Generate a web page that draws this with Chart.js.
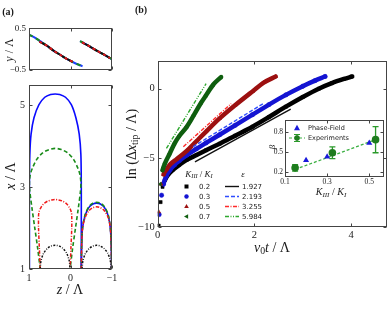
<!DOCTYPE html>
<html>
<head>
<meta charset="utf-8">
<script src="https://cdn.jsdelivr.net/npm/chart.js@4.4.0/dist/chart.umd.min.js"></script>
<style>
  body { margin: 0; width: 390px; height: 309px; position: relative; overflow: hidden; background: #fff; }
  canvas { position: absolute; }
  .t { position: absolute; white-space: nowrap; line-height: 1; color: #1a1a1a; font-family: 'Liberation Serif', serif; transform: translate(-50%, -50%); }
  .r { transform: translate(-50%, -50%) rotate(-90deg); }
  .s { font-family: 'DejaVu Sans', sans-serif; transform: translate(0, -50%); }
  sub { font-size: 70%; vertical-align: -0.25em; line-height: 0; }
</style>
</head>
<body>
<canvas id="aTop" width="120" height="58" style="left:0;top:20px"></canvas>
<canvas id="aBot" width="122" height="210" style="left:0;top:75px"></canvas>
<canvas id="bMain" width="261" height="195" style="left:130px;top:50px"></canvas>
<canvas id="bIns" width="128" height="80" style="left:262px;top:110px"></canvas>

<div class="t" style="left:8px;top:12px;font-size:10px;font-weight:bold">(a)</div>
<div class="t" style="left:141px;top:10px;font-size:10px;font-weight:bold">(b)</div>
<div class="t r" style="left:9px;top:50px;font-size:12px"><i>y</i> / Λ</div>
<div class="t r" style="left:11px;top:176px;font-size:14px"><i>x</i> / Λ</div>
<div class="t" style="left:70px;top:290px;font-size:14px"><i>z</i> / Λ</div>
<div class="t r" style="left:132px;top:144px;font-size:14px">ln (Δ<i>x</i><sub>tip</sub> / Λ)</div>
<div class="t" style="left:272px;top:248px;font-size:14px"><i>v</i><sub>0</sub><i>t</i> / Λ</div>
<div class="t r" style="left:272px;top:147px;font-size:9px"><i>β</i></div>
<div class="t" style="left:331px;top:192px;font-size:10px"><i>K</i><sub><i>III</i></sub> / <i>K</i><sub><i>I</i></sub></div>
<div class="t" style="left:199px;top:174px;font-size:9px"><i>K</i><sub><i>III</i></sub> / <i>K</i><sub><i>I</i></sub></div>
<div class="t" style="left:243px;top:174px;font-size:9px"><i>ε</i></div>
<div id="legTxt"></div>
<div class="t s" style="left:308px;top:128px;font-size:6.5px">Phase-Field</div>
<div class="t s" style="left:308px;top:138px;font-size:6.5px">Experiments</div>

<script>
// ---------- panel (a), top: y/Λ against z/Λ ----------
const zSeg1 = [1.0, 0.85, 0.73, 0.57, 0.41, 0.25, 0.09, -0.1, -0.29];
const ySeg1 = [0.35, 0.27, 0.19, 0.08, -0.04, -0.14, -0.24, -0.34, -0.42];
const zIn1 = [0.75, 0.57, 0.41, 0.25, 0.09, -0.05];
const yIn1 = [0.18, 0.08, -0.04, -0.14, -0.24, -0.31];
const zSeg2 = [-0.23, -0.4, -0.63, -0.85, -1.0];
const ySeg2 = [0.19, 0.1, -0.04, -0.16, -0.25];
const zIn2 = [-0.28, -0.45, -0.63, -0.8, -0.95];
const yIn2 = [0.16, 0.07, -0.04, -0.13, -0.22];

// ---------- panel (a), bottom: x/Λ against z/Λ ----------
const zBlueL = [0.99, 0.99, 0.99, 0.98, 0.95, 0.88, 0.76, 0.62, 0.48, 0.37, 0.26, 0.12, -0.02, -0.13, -0.21, -0.25, -0.26, -0.26, -0.26];
const xBlueL = [1.0, 2.0, 3.0, 3.8, 4.3, 4.7, 5.02, 5.2, 5.27, 5.28, 5.27, 5.2, 5.02, 4.7, 4.3, 3.8, 3.0, 2.0, 1.0];
const zRight = [-0.26, -0.27, -0.29, -0.35, -0.44, -0.54, -0.63, -0.72, -0.82, -0.91, -0.96, -0.98, -0.99];
const xBlueR = [1.0, 1.6, 2.0, 2.3, 2.5, 2.59, 2.61, 2.59, 2.5, 2.3, 2.0, 1.6, 1.0];
const xGreenR = [1.0, 1.6, 2.0, 2.32, 2.52, 2.61, 2.63, 2.61, 2.52, 2.32, 2.0, 1.6, 1.0];
const xRedR = [1.0, 1.6, 2.0, 2.25, 2.42, 2.5, 2.52, 2.5, 2.42, 2.25, 2.0, 1.6, 1.0];
const zGreenL = [0.73, 0.79, 0.86, 0.93, 0.98, 0.99, 0.97, 0.92, 0.82, 0.67, 0.52, 0.37, 0.22, 0.07, -0.08, -0.18, -0.23, -0.25, -0.24, -0.19, -0.12, -0.05, 0.01];
const xGreenL = [1.0, 1.5, 2.0, 2.5, 2.9, 3.1, 3.3, 3.46, 3.67, 3.84, 3.92, 3.95, 3.92, 3.84, 3.67, 3.46, 3.3, 3.1, 2.9, 2.5, 2.0, 1.5, 1.0];
const zRedL = [0.73, 0.75, 0.77, 0.77, 0.76, 0.72, 0.65, 0.55, 0.45, 0.37, 0.29, 0.19, 0.09, 0.02, -0.02, -0.03, -0.03, -0.01, 0.01];
const xRedL = [1.0, 1.5, 2.0, 2.3, 2.39, 2.49, 2.59, 2.66, 2.69, 2.7, 2.69, 2.66, 2.59, 2.49, 2.39, 2.3, 2.0, 1.5, 1.0];
const zBlackL = [0.73, 0.71, 0.65, 0.56, 0.47, 0.37, 0.27, 0.18, 0.09, 0.03, 0.01];
const zBlackR = [-0.28, -0.3, -0.36, -0.45, -0.54, -0.63, -0.72, -0.81, -0.9, -0.96, -0.98];
const xBlack = [1.0, 1.2, 1.38, 1.5, 1.56, 1.58, 1.56, 1.5, 1.38, 1.2, 1.0];

// ---------- panel (b): ln(Δx_tip/Λ) against v0 t/Λ ----------
const tK02 = [0.02, 0.06, 0.10, 0.15, 0.22, 0.32, 0.45, 0.60, 0.80, 1.00, 1.28, 1.60, 1.96, 2.30, 2.65, 3.00, 3.33, 3.60, 3.85, 4.02];
const lnK02 = [-9.9, -8.2, -7.1, -6.6, -6.2, -5.85, -5.5, -5.15, -4.8, -4.45, -3.98, -3.4, -2.75, -2.05, -1.3, -0.6, 0.0, 0.4, 0.7, 0.88];
const tK03 = [0.03, 0.08, 0.12, 0.18, 0.25, 0.35, 0.45, 0.60, 0.80, 1.00, 1.28, 1.60, 1.96, 2.30, 2.65, 3.00, 3.25, 3.46];
const lnK03 = [-9.1, -7.7, -6.9, -6.3, -5.9, -5.5, -5.2, -4.8, -4.35, -3.92, -3.33, -2.65, -1.88, -1.15, -0.45, 0.18, 0.58, 0.88];
const tK05 = [0.02, 0.07, 0.12, 0.18, 0.25, 0.39, 0.60, 0.80, 1.00, 1.28, 1.60, 1.96, 2.20, 2.44];
const lnK05 = [-8.9, -6.9, -6.2, -5.85, -5.5, -5.1, -4.5, -3.8, -3.1, -2.15, -1.2, -0.2, 0.45, 0.88];
const tK07 = [0.05, 0.10, 0.15, 0.25, 0.35, 0.45, 0.60, 0.75, 0.90, 1.00, 1.15, 1.31];
const lnK07 = [-6.9, -5.9, -5.4, -4.68, -3.95, -3.4, -2.76, -1.9, -1.0, -0.48, 0.3, 0.84];
// straight fits, slope ε
const fitT02 = [0.77, 2.75], fitLn02 = [-5.3, -1.48];
const fitT03 = [0.73, 2.18], fitLn03 = [-4.2, -1.08];
const fitT05 = [0.53, 1.52], fitLn05 = [-4.2, -1.08];
const fitT07 = [0.18, 1.0], fitLn07 = [-4.32, 0.36];
const ratioLabels = ['0.2', '0.3', '0.5', '0.7'];
const epsLabels = ['1.927', '2.193', '3.255', '5.984'];

// ---------- inset: β against K_III/K_I ----------
const kPF = [0.2, 0.3, 0.5];
const betaPF = [0.375, 0.43, 0.64];
const kExp = [0.148, 0.325, 0.53];
const betaExp = [0.26, 0.49, 0.69];
const betaErr = [0.05, 0.09, 0.2];
const kFit = [0.148, 0.53];
const betaFit = [0.235, 0.69];

const pts = (xs, ys) => xs.map((x, i) => ({ x: x, y: ys[i] }));
const minus = v => String(v).replace('-', '\u2212');

const frame = {
  id: 'frame',
  beforeDraw(c, a, o) {
    if (!o.fill) return;
    const r = c.chartArea;
    c.ctx.save();
    c.ctx.fillStyle = o.fill;
    c.ctx.fillRect(r.left, r.top, r.right - r.left, r.bottom - r.top);
    c.ctx.restore();
  },
  afterDraw(c, a, o) {
    const r = c.chartArea, ctx = c.ctx, L = 3;
    const l = Math.round(r.left) + 0.5, rt = Math.round(r.right) - 0.5;
    const tp = Math.round(r.top) + 0.5, bt = Math.round(r.bottom) - 0.5;
    ctx.save();
    ctx.strokeStyle = '#444';
    ctx.lineWidth = 1;
    ctx.strokeRect(l, tp, rt - l, bt - tp);
    ctx.beginPath();
    c.scales.x.ticks.forEach(t => {
      const p = Math.round(c.scales.x.getPixelForValue(t.value)) + 0.5;
      ctx.moveTo(p, bt); ctx.lineTo(p, bt - L);
      ctx.moveTo(p, tp); ctx.lineTo(p, tp + L);
    });
    c.scales.y.ticks.forEach(t => {
      const p = Math.round(c.scales.y.getPixelForValue(t.value)) + 0.5;
      ctx.moveTo(l, p); ctx.lineTo(l + L, p);
      ctx.moveTo(rt, p); ctx.lineTo(rt - L, p);
    });
    ctx.stroke();
    ctx.restore();
  }
};
Chart.register(frame);
Chart.defaults.animation = false;
Chart.defaults.color = '#222';

function axis(min, max, ticks, size, fit, opts) {
  return Object.assign({
    type: 'linear', min: min, max: max,
    grid: { display: false, drawTicks: false }, border: { display: false },
    afterBuildTicks: s => { s.ticks = ticks.map(v => ({ value: v })); },
    afterFit: s => { if (s.isHorizontal()) s.height = size; else s.width = size; },
    ticks: { font: { family: 'Liberation Serif', size: fit.font }, padding: fit.pad, callback: minus, display: fit.show !== false }
  }, opts || {});
}

// note: Chart.js paints the first dataset last, so overlays go first in each list
function make(id, datasets, x, y, pad, extra) {
  return new Chart(document.getElementById(id), {
    type: 'scatter',
    data: { datasets: datasets },
    options: {
      responsive: false, devicePixelRatio: 1,
      layout: { padding: pad },
      scales: { x: x, y: y },
      plugins: { legend: { display: false }, tooltip: { enabled: false }, frame: extra && extra.fill ? { fill: extra.fill } : {} },
      elements: { point: { radius: 0 } }
    },
    plugins: extra && extra.plugins ? extra.plugins : []
  });
}

const line = (xs, ys, color, width, dash, tension) => ({
  data: pts(xs, ys), showLine: true, borderColor: color, borderWidth: width,
  borderDash: dash || [], tension: tension || 0, pointRadius: 0, fill: false
});

// panel (a) top
make('aTop', [
  line(zIn1, yIn1, '#e01818', 2, [3, 3], 0.3),
  line(zIn2, yIn2, '#e01818', 2, [3, 3], 0.3),
  line(zIn1, yIn1, '#111', 2, [], 0.3),
  line(zIn2, yIn2, '#111', 2, [], 0.3),
  line(zSeg1, ySeg1, '#1a8c1a', 2, [4, 4], 0.3),
  line(zSeg2, ySeg2, '#1a8c1a', 2, [4, 4], 0.3),
  line(zSeg1, ySeg1, '#1f3fff', 2, [], 0.3),
  line(zSeg2, ySeg2, '#1f3fff', 2, [], 0.3)
],
  axis(-1, 1, [1, 0, -1], 7, { font: 9, pad: 2, show: false }, { reverse: true }),
  axis(-0.5, 0.5, [-0.5, 0.5], 29, { font: 9, pad: 3 }),
  { top: 8, right: 8, left: 0, bottom: 0 });

// panel (a) bottom
make('aBot', [
  line(zBlackL, xBlack, '#111', 1.5, [2, 1.5, 0.8, 1.5], 0.3),
  line(zBlackR, xBlack, '#111', 1.5, [2, 1.5, 0.8, 1.5], 0.3),
  line(zRedL, xRedL, '#f01a1a', 1.5, [3.5, 1.5, 1, 1.5], 0.3),
  line(zRight, xRedR, '#f01a1a', 1.5, [3.5, 1.5, 1, 1.5], 0.3),
  line(zGreenL, xGreenL, '#1a8c1a', 1.6, [4, 2.5], 0.3),
  line(zRight, xGreenR, '#1a8c1a', 1.6, [4, 2.5], 0.3),
  line(zBlueL, xBlueL, '#0a0aff', 1.6, [], 0.3),
  line(zRight, xBlueR, '#0a0aff', 1.6, [], 0.3)
],
  axis(-1, 1, [1, 0, -1], 16, { font: 10, pad: 3 }, { reverse: true }),
  axis(1, 5.5, [1, 3, 5], 29, { font: 10, pad: 4 }),
  { top: 8, right: 10, left: 0, bottom: 0 });

// panel (b) main
const series = (t, ln, color, style, rot, nSparse) => ({
  data: pts(t, ln), showLine: true, borderColor: color, backgroundColor: color,
  borderWidth: 4.5, borderJoinStyle: 'round', borderCapStyle: 'round',
  cubicInterpolationMode: 'monotone',
  pointStyle: style, rotation: rot, pointRadius: 2.2, pointBorderWidth: 0.5, pointBorderColor: color,
  segment: { borderColor: c => c.p0DataIndex < nSparse ? 'rgba(0,0,0,0)' : undefined }
});
const colK = ['#000000', '#1414d2', '#9c1010', '#0f5e0f'];
const fitCol = ['#111111', '#2f4dff', '#ff2a2a', '#2ea82e'];
const fitDash = [[], [4, 2], [4, 1.5, 1, 1.5], [4, 1.5, 1, 1.5, 1, 1.5]];
const legendB = {
  id: 'legendB',
  afterDraw(c) {
    const ctx = c.ctx, ox = 130, oy = 50;
    const rows = [186.5, 196.5, 206.5, 216.5];
    rows.forEach((ry, i) => {
      const x = 186.5 - ox, y = ry - oy;
      ctx.save();
      ctx.fillStyle = colK[i];
      ctx.beginPath();
      if (i === 0) ctx.rect(x - 2, y - 2, 4, 4);
      else if (i === 1) ctx.arc(x, y, 2.2, 0, Math.PI * 2);
      else if (i === 2) { ctx.moveTo(x, y - 2.5); ctx.lineTo(x + 2.3, y + 1.6); ctx.lineTo(x - 2.3, y + 1.6); }
      else { ctx.moveTo(x - 2.5, y); ctx.lineTo(x + 1.6, y - 2.3); ctx.lineTo(x + 1.6, y + 2.3); }
      ctx.closePath();
      ctx.fill();
      ctx.strokeStyle = fitCol[i];
      ctx.lineWidth = 1.4;
      ctx.setLineDash(fitDash[i]);
      ctx.beginPath();
      ctx.moveTo(225 - ox, y); ctx.lineTo(239 - ox, y);
      ctx.stroke();
      ctx.restore();
    });
  }
};
const fit = (t, ln, i) => ({
  data: pts(t, ln), showLine: true, borderColor: fitCol[i], borderWidth: 1.4,
  borderDash: fitDash[i], pointRadius: 0
});
make('bMain', [
  fit(fitT02, fitLn02, 0), fit(fitT03, fitLn03, 1), fit(fitT05, fitLn05, 2), fit(fitT07, fitLn07, 3),
  series(tK07, lnK07, colK[3], 'triangle', -90, 1),
  series(tK05, lnK05, colK[2], 'triangle', 0, 2),
  series(tK03, lnK03, colK[1], 'circle', 0, 2),
  series(tK02, lnK02, colK[0], 'rect', 0, 3)
],
  axis(0, 4.73, [0, 2, 4], 18, { font: 10.5, pad: 2 }),
  axis(-10, 2, [-10, -5, 0], 27.7, { font: 10.5, pad: 3 }),
  { top: 11, right: 3, left: 0, bottom: 0 },
  { plugins: [legendB] });

// inset
const errBars = {
  id: 'errBars',
  beforeDatasetsDraw(c) {
    const ctx = c.ctx, xs = c.scales.x, ys = c.scales.y;
    ctx.save();
    ctx.strokeStyle = '#2a9a2a';
    ctx.lineWidth = 1.3;
    ctx.beginPath();
    kExp.forEach((k, i) => {
      const px = xs.getPixelForValue(k);
      const y1 = ys.getPixelForValue(betaExp[i] + betaErr[i]);
      const y2 = ys.getPixelForValue(betaExp[i] - betaErr[i]);
      ctx.moveTo(px, y1); ctx.lineTo(px, y2);
      ctx.moveTo(px - 3, y1); ctx.lineTo(px + 3, y1);
      ctx.moveTo(px - 3, y2); ctx.lineTo(px + 3, y2);
    });
    ctx.stroke();
    ctx.restore();
  },
  afterDraw(c) {
    const ctx = c.ctx, ox = 262, oy = 110;
    ctx.save();
    // Phase-Field key
    let x = 297 - ox, y = 128 - oy;
    ctx.fillStyle = '#1a1adb';
    ctx.beginPath();
    ctx.moveTo(x, y - 3.2); ctx.lineTo(x + 3, y + 2.2); ctx.lineTo(x - 3, y + 2.2);
    ctx.closePath(); ctx.fill();
    // Experiments key
    y = 138 - oy;
    ctx.strokeStyle = '#3cb043'; ctx.lineWidth = 1.2; ctx.setLineDash([3, 2]);
    ctx.beginPath(); ctx.moveTo(289 - ox, y); ctx.lineTo(305 - ox, y); ctx.stroke();
    ctx.setLineDash([]);
    ctx.strokeStyle = '#2a9a2a';
    ctx.beginPath();
    ctx.moveTo(x, y - 3.5); ctx.lineTo(x, y + 3.5);
    ctx.moveTo(x - 3, y - 3.5); ctx.lineTo(x + 3, y - 3.5);
    ctx.moveTo(x - 3, y + 3.5); ctx.lineTo(x + 3, y + 3.5);
    ctx.stroke();
    ctx.fillStyle = '#1e7d1e';
    ctx.beginPath(); ctx.arc(x, y, 2.8, 0, Math.PI * 2); ctx.fill();
    ctx.restore();
  }
};
make('bIns', [
  { data: pts(kExp, betaExp), pointStyle: 'circle', pointRadius: 3.8, backgroundColor: '#1e7d1e', borderColor: '#1e7d1e', borderWidth: 0 },
  { data: pts(kPF, betaPF), pointStyle: 'triangle', pointRadius: 3.5, backgroundColor: '#1a1adb', borderColor: '#1a1adb', borderWidth: 0 },
  { data: pts(kFit, betaFit), showLine: true, borderColor: '#3cb043', borderWidth: 1.3, borderDash: [3, 2], pointRadius: 0 }
],
  axis(0.1, 0.57, [0.1, 0.3, 0.5], 13, { font: 7.5, pad: 1 }),
  axis(0.12, 0.99, [0.2, 0.5, 0.8], 23, { font: 7.5, pad: 2 }),
  { top: 10, right: 6, left: 0, bottom: 0 },
  { fill: '#ffffff', plugins: [errBars] });

// legend text for panel (b)
const legTxt = document.getElementById('legTxt');
[186.5, 196.5, 206.5, 216.5].forEach((y, i) => {
  legTxt.insertAdjacentHTML('beforeend',
    '<div class="t s" style="left:199px;top:' + y + 'px;font-size:7px">' + ratioLabels[i] + '</div>' +
    '<div class="t s" style="left:242px;top:' + y + 'px;font-size:7px">' + epsLabels[i] + '</div>');
});
</script>
</body>
</html>
